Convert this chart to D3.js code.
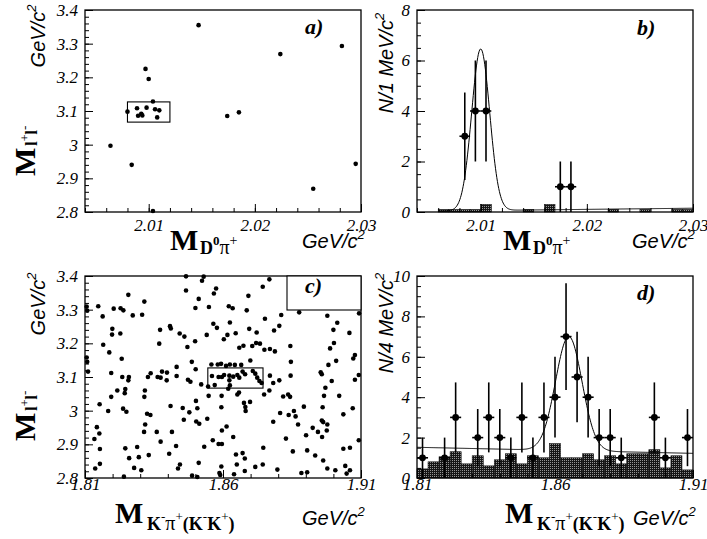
<!DOCTYPE html>
<html>
<head>
<meta charset="utf-8">
<script src="https://cdn.jsdelivr.net/npm/d3@7"></script>
<style>
  body { margin: 0; background: #fff; }
</style>
</head>
<body>
<div id="viz"></div>
<script>
// ---- data ----

// a) M(l+l-) vs M(D0 pi+), GeV/c^2
const aPoints = [
  [2.0147,3.355],[2.0224,3.269],[2.0282,3.293],[2.0097,3.225],[2.0100,3.195],
  [2.0104,3.128],[2.0080,3.098],[2.0089,3.108],[2.0098,3.110],[2.0090,3.086],
  [2.0093,3.092],[2.0094,3.087],[2.0106,3.105],[2.0110,3.102],[2.0108,3.081],
  [2.0174,3.085],[2.0185,3.096],[2.0064,2.997],[2.0084,2.940],[2.0255,2.869],
  [2.0295,2.943],[2.0104,2.803]
];
const aWindow = [2.008, 2.012, 3.067, 3.127];

// b) M(D0 pi+) in the J/psi window, 1 MeV bins
const bCenters = [2.0085, 2.0095, 2.0105, 2.0175, 2.0185];
const bCounts = [3, 4, 4, 1, 1];
const bBkgStart = 2.004;
const bBkgWidth = 0.001;
const bBkg = [0,0,0.1,0.1,0.1,0.1,0.3,0,0,0,0.1,0,0.3,0,0,0,0,0,0.1,0,0,0.1,0,0,0.1,0.1];
const bFitMean = 2.0100, bFitSigma = 0.00085, bFitAmp = 6.4;
const bFitBg = [0.04, 0.15];          // linear background at fit range ends
const bFitRange = [2.006, 2.030];

// c) M(l+l-) vs M(K-pi+ / K-K+)
const cPoints = [
  [1.8466,3.399],[1.853,3.398],[1.8524,3.386],[1.8575,3.363],[1.8567,3.348],[1.8466,3.357],
  [1.8257,3.344],[1.8512,3.332],[1.8315,3.324],[1.8106,3.309],[1.8148,3.310],[1.8108,3.297],
  [1.8204,3.303],[1.8229,3.304],[1.8239,3.298],[1.8164,3.280],[1.8273,3.283],[1.8307,3.285],
  [1.850,3.305],[1.8549,3.308],[1.8565,3.258],[1.8578,3.246],[1.8408,3.251],[1.8411,3.244],
  [1.8199,3.243],[1.8198,3.226],[1.8228,3.229],[1.8372,3.240],[1.8443,3.229],[1.846,3.220],
  [1.8541,3.225],[1.8603,3.212],[1.8499,3.206],[1.8166,3.196],[1.8369,3.199],[1.8471,3.189],
  [1.8188,3.173],[1.8106,3.158],[1.8233,3.154],[1.8108,3.145],[1.8487,3.145],[1.8558,3.137],
  [1.8581,3.137],[1.8593,3.139],[1.8432,3.130],[1.8501,3.123],[1.8111,3.116],[1.8195,3.112],
  [1.8338,3.111],[1.8379,3.116],[1.8397,3.113],[1.8235,3.100],[1.8259,3.100],[1.8328,3.100],
  [1.8363,3.100],[1.8374,3.098],[1.8432,3.103],[1.856,3.103],[1.8584,3.100],
  [1.8768,3.390],[1.8744,3.368],[1.8692,3.341],[1.8621,3.310],[1.8635,3.304],[1.8686,3.298],
  [1.8811,3.284],[1.8876,3.292],[1.8978,3.282],[1.9093,3.289],[1.8752,3.273],[1.8625,3.262],
  [1.9014,3.261],[1.8804,3.252],[1.8785,3.238],[1.8695,3.243],[1.8722,3.232],[1.8646,3.230],
  [1.900,3.240],[1.9058,3.231],[1.8616,3.225],[1.9002,3.201],[1.8659,3.187],[1.8674,3.193],
  [1.8706,3.192],[1.872,3.201],[1.8734,3.199],[1.875,3.181],[1.877,3.183],[1.8788,3.176],
  [1.8844,3.192],[1.8988,3.185],[1.9078,3.165],[1.9072,3.155],[1.901,3.148],[1.8982,3.136],
  [1.8846,3.145],[1.8699,3.149],[1.8611,3.133],[1.8625,3.137],[1.8643,3.136],[1.8666,3.136],
  [1.8604,3.106],[1.8623,3.104],[1.8637,3.101],[1.8652,3.106],[1.8659,3.098],[1.8671,3.116],
  [1.868,3.108],[1.8708,3.118],[1.8717,3.110],[1.8724,3.098],[1.877,3.104],[1.8845,3.104],
  [1.8954,3.114],[1.8958,3.108],[1.9092,3.106],
  [1.8257,3.090],[1.8396,3.090],[1.8473,3.092],[1.8482,3.086],[1.8521,3.078],[1.8546,3.072],
  [1.857,3.076],[1.8596,3.100],[1.8217,3.060],[1.8246,3.064],[1.8244,3.052],[1.8195,3.041],
  [1.8317,3.060],[1.8315,3.041],[1.8548,3.044],[1.8595,3.044],[1.8502,3.029],[1.8153,3.019],
  [1.841,3.014],[1.8454,3.008],[1.8507,3.007],[1.8478,2.995],[1.8184,2.999],[1.8238,3.006],
  [1.825,2.997],[1.8325,2.991],[1.8337,2.987],[1.8594,3.010],[1.8543,2.976],[1.8458,2.973],
  [1.8503,2.968],[1.8514,2.961],[1.8318,2.959],[1.8143,2.951],[1.8152,2.932],[1.8134,2.916],
  [1.8314,2.937],[1.836,2.937],[1.8415,2.937],[1.8596,2.941],[1.8374,2.908],[1.8563,2.912],
  [1.8584,2.901],[1.8596,2.901],[1.843,2.895],[1.8532,2.893],[1.8154,2.886],[1.8246,2.888],
  [1.8289,2.892],[1.8405,2.872],[1.8331,2.868],[1.826,2.859],[1.8295,2.862],[1.8154,2.842],
  [1.8137,2.828],[1.8278,2.830],[1.8304,2.823],[1.8444,2.840],[1.8437,2.828],[1.8512,2.845],
  [1.8594,2.834],[1.8587,2.815],[1.859,2.809],[1.8488,2.807],[1.8241,2.804],[1.8507,2.803],
  [1.8623,3.090],[1.8732,3.088],[1.874,3.082],[1.8625,3.075],[1.8619,3.065],
  [1.8782,3.082],[1.8804,3.090],[1.8994,3.088],[1.9078,3.092],
  [1.8768,3.060],[1.8749,3.048],[1.8652,3.048],[1.8658,3.054],[1.8818,3.042],[1.8836,3.048],
  [1.8843,3.041],[1.8971,3.068],[1.8966,3.044],[1.9021,3.044],
  [1.8676,3.023],[1.8698,3.026],[1.8681,3.011],[1.8682,2.999],[1.8893,3.012],[1.8961,3.010],
  [1.907,3.007],[1.9036,2.989],[1.8807,2.993],[1.8838,2.987],[1.8857,2.999],[1.8863,2.983],
  [1.8872,2.959],[1.8782,2.967],[1.8958,2.971],[1.8963,2.966],[1.8978,2.959],[1.8925,2.949],
  [1.8944,2.937],[1.8976,2.941],[1.8959,2.922],[1.8901,2.927],[1.8828,2.917],[1.8613,2.953],
  [1.8637,2.922],
  [1.8746,2.890],[1.8853,2.879],[1.8905,2.882],[1.8934,2.867],[1.8963,2.852],[1.9036,2.887],
  [1.906,2.890],[1.9092,2.912],[1.8647,2.870],[1.8671,2.874],[1.8679,2.858],[1.865,2.840],
  [1.8717,2.833],[1.8744,2.840],[1.8797,2.825],[1.8679,2.821],[1.864,2.811],[1.8884,2.815],
  [1.8905,2.817],[1.8978,2.828],[1.9007,2.823],[1.9043,2.836],[1.906,2.823],[1.9048,2.813]
];
const cWindow = [1.8545, 1.8745, 3.067, 3.127];

// d) M(K-pi+ / K-K+) in the J/psi window, 4 MeV bins from 1.81
const dStart = 1.81;
const dWidth = 0.004;
const dCounts = [1,0,1,3,0,2,3,2,1,3,1,3,4,7,5,4,2,2,1,0,0,3,1,0,2];
const dBkg = [0.45,0.8,1.05,1.3,0.7,1.1,0.6,0.9,1.2,0.7,1.1,1.0,1.7,1.0,1.0,1.2,0.9,1.1,0.7,1.2,1.2,1.4,0.5,1.1,0.4];
const dFitMean = 1.865, dFitSigma = 0.0048, dFitAmp = 5.65;
const dFitBg = [1.52, 1.22];
const dFitRange = [1.81, 1.91];

// ---- layout ----
const width = 707, height = 539;
const serif = 'Liberation Serif, Times New Roman, serif';
const sans = 'Liberation Sans, Arial, sans-serif';

const svg = d3.select('#viz').append('svg')
  .attr('width', width).attr('height', height)
  .style('background', '#fff');

const defs = svg.append('defs');
const pat = defs.append('pattern').attr('id', 'bkgfill')
  .attr('width', 2).attr('height', 2).attr('patternUnits', 'userSpaceOnUse');
pat.append('rect').attr('width', 2).attr('height', 2).attr('fill', '#161616');
pat.append('rect').attr('width', 1).attr('height', 1).attr('fill', '#959595');

const frames = {
  a: {left: 85, right: 361, top: 10, bottom: 212},
  b: {left: 417, right: 693, top: 10, bottom: 212},
  c: {left: 85, right: 361, top: 276, bottom: 478},
  d: {left: 417, right: 693, top: 276, bottom: 478}
};

const fmt = d => String(+d.toFixed(3));
const steps = (a, b, s) => d3.range(Math.round((b - a) / s) + 1).map(i => +(a + i * s).toFixed(4));

function drawAxes(f, x, y, o) {
  const g = svg.append('g');
  const bx = g.append('g').attr('transform', `translate(0,${f.bottom})`);
  bx.append('g').call(d3.axisBottom(x).tickValues(o.xMinor).tickSize(-4).tickFormat(''));
  bx.append('g').call(d3.axisBottom(x).tickValues(o.xMajor).tickSize(-8).tickPadding(o.xPad).tickFormat(fmt));
  const ly = g.append('g').attr('transform', `translate(${f.left},0)`);
  ly.append('g').call(d3.axisRight(y).tickValues(o.yMinor).tickSize(4).tickFormat(''));
  ly.append('g').call(d3.axisRight(y).tickValues(o.yMajor).tickSize(8).tickFormat(''));
  ly.append('g').call(d3.axisLeft(y).tickValues(o.yMajor).tickSize(0).tickPadding(7).tickFormat(fmt));
  g.selectAll('.domain').remove();
  g.selectAll('.tick line').attr('stroke', '#000').attr('stroke-width', 1);
  g.selectAll('text')
    .attr('font-family', serif).attr('font-style', 'italic')
    .attr('font-size', 17).attr('fill', '#000');
  svg.append('rect')
    .attr('x', f.left).attr('y', f.top)
    .attr('width', f.right - f.left).attr('height', f.bottom - f.top)
    .attr('fill', 'none').attr('stroke', '#000').attr('stroke-width', 1.3);
}

function rich(x, y, parts, opts = {}) {
  const t = svg.append('text')
    .attr('transform', `translate(${x},${y})` + (opts.rotate ? ' rotate(-90)' : ''))
    .attr('text-anchor', opts.anchor || 'start')
    .attr('fill', '#000');
  let cur = 0;
  parts.forEach(p => {
    t.append('tspan')
      .attr('dy', p.shift - cur)
      .attr('dx', p.dx || 0)
      .attr('font-family', p.family || serif)
      .attr('font-size', p.size)
      .attr('font-weight', p.bold ? 'bold' : 'normal')
      .attr('font-style', p.italic ? 'italic' : 'normal')
      .text(p.t);
    cur = p.shift;
  });
  return t;
}

const gevParts = [
  {t: 'GeV/c', size: 20, italic: true, family: sans, shift: 0},
  {t: '2', size: 13, italic: true, family: sans, shift: -9}
];
const mParts = (size) => [{t: 'M', size: size, bold: true, shift: 0}];
const llSub = [
  {t: 'l', size: 16, bold: true, shift: 2, dx: 2},
  {t: '+', size: 12, shift: -6},
  {t: 'l', size: 16, bold: true, shift: 2},
  {t: '-', size: 13, shift: -6}
];
const dpiSub = [
  {t: 'D', size: 18, bold: true, shift: 0},
  {t: '0', size: 13, bold: true, shift: -9},
  {t: 'π', size: 20, shift: 0},
  {t: '+', size: 14, shift: -9}
];
const kpiSub = [
  {t: 'K', size: 18, bold: true, shift: 0},
  {t: '-', size: 13, shift: -9},
  {t: 'π', size: 20, shift: 0},
  {t: '+', size: 13, shift: -9},
  {t: '(K', size: 18, bold: true, shift: 0},
  {t: '-', size: 13, shift: -9},
  {t: 'K', size: 18, bold: true, shift: 0},
  {t: '+', size: 13, shift: -9},
  {t: ')', size: 18, bold: true, shift: 0}
];

function panelLabel(txt, x, y) {
  svg.append('text').attr('x', x).attr('y', y)
    .attr('font-family', serif).attr('font-weight', 'bold').attr('font-style', 'italic')
    .attr('font-size', 22).text(txt);
}

function scatter(f, x, y, pts, win) {
  svg.append('g').selectAll('circle').data(pts).join('circle')
    .attr('cx', d => x(d[0])).attr('cy', d => y(d[1])).attr('r', 2.3).attr('fill', '#000');
  svg.append('rect')
    .attr('x', x(win[0])).attr('y', y(win[3]))
    .attr('width', x(win[1]) - x(win[0])).attr('height', y(win[2]) - y(win[3]))
    .attr('fill', 'none').attr('stroke', '#000').attr('stroke-width', 1.1);
}

function histo(x, y, start, w, vals) {
  svg.append('g').selectAll('rect').data(vals.map((v, i) => ({x0: start + i * w, x1: start + (i + 1) * w, v})).filter(d => d.v > 0))
    .join('rect')
    .attr('x', d => x(d.x0)).attr('y', d => y(d.v))
    .attr('width', d => x(d.x1) - x(d.x0)).attr('height', d => y(0) - y(d.v))
    .attr('fill', 'url(#bkgfill)').attr('stroke', '#111').attr('stroke-width', 0.6);
}

function fitCurve(x, y, mean, sigma, amp, bg, range) {
  const xs = d3.range(401).map(i => range[0] + i * (range[1] - range[0]) / 400);
  const f = v => bg[0] + (bg[1] - bg[0]) * (v - range[0]) / (range[1] - range[0])
    + amp * Math.exp(-0.5 * ((v - mean) / sigma) ** 2);
  svg.append('path')
    .attr('d', d3.line().x(v => x(v)).y(v => y(f(v)))(xs))
    .attr('fill', 'none').attr('stroke', '#000').attr('stroke-width', 1);
}

function errPoints(x, y, centers, counts, half) {
  const pts = centers.map((c, i) => ({c, n: counts[i]})).filter(d => d.n > 0);
  const g = svg.append('g').attr('stroke', '#000').attr('stroke-width', 1.6);
  g.selectAll('.ev').data(pts).join('line')
    .attr('x1', d => x(d.c)).attr('x2', d => x(d.c))
    .attr('y1', d => y(Math.max(0, d.n - Math.sqrt(d.n))))
    .attr('y2', d => y(d.n + Math.sqrt(d.n)));
  g.selectAll('.eh').data(pts).join('line')
    .attr('x1', d => x(d.c - half)).attr('x2', d => x(d.c + half))
    .attr('y1', d => y(d.n)).attr('y2', d => y(d.n));
  svg.append('g').selectAll('circle').data(pts).join('circle')
    .attr('cx', d => x(d.c)).attr('cy', d => y(d.n)).attr('r', 3.4).attr('fill', '#000');
}

// ---- panel a ----
{
  const f = frames.a;
  const x = d3.scaleLinear([2.004, 2.03], [f.left, f.right]);
  const y = d3.scaleLinear([2.8, 3.4], [f.bottom, f.top]);
  scatter(f, x, y, aPoints, aWindow);
  drawAxes(f, x, y, {
    xMajor: [2.01, 2.02, 2.03], xMinor: steps(2.004, 2.03, 0.002), xPad: 7,
    yMajor: steps(2.8, 3.4, 0.1), yMinor: steps(2.8, 3.4, 0.02)
  });
  panelLabel('a)', 305, 34);
}

// ---- panel b ----
{
  const f = frames.b;
  const x = d3.scaleLinear([2.004, 2.03], [f.left, f.right]);
  const y = d3.scaleLinear([0, 8], [f.bottom, f.top]);
  histo(x, y, bBkgStart, bBkgWidth, bBkg);
  fitCurve(x, y, bFitMean, bFitSigma, bFitAmp, bFitBg, bFitRange);
  errPoints(x, y, bCenters, bCounts, 0.0005);
  drawAxes(f, x, y, {
    xMajor: [2.01, 2.02, 2.03], xMinor: steps(2.004, 2.03, 0.002), xPad: 7,
    yMajor: steps(0, 8, 2), yMinor: steps(0, 8, 0.5)
  });
  panelLabel('b)', 637, 35);
}

// ---- panel c ----
{
  const f = frames.c;
  const x = d3.scaleLinear([1.81, 1.91], [f.left, f.right]);
  const y = d3.scaleLinear([2.8, 3.4], [f.bottom, f.top]);
  scatter(f, x, y, cPoints, cWindow);
  drawAxes(f, x, y, {
    xMajor: [1.81, 1.86, 1.91], xMinor: steps(1.81, 1.91, 0.01), xPad: 0,
    yMajor: steps(2.8, 3.4, 0.1), yMinor: steps(2.8, 3.4, 0.02)
  });
  svg.append('rect')
    .attr('x', f.right - 74).attr('y', f.top)
    .attr('width', 74).attr('height', 34)
    .attr('fill', '#fff').attr('stroke', '#000').attr('stroke-width', 1.1);
  panelLabel('c)', 305, 293);
}

// ---- panel d ----
{
  const f = frames.d;
  const x = d3.scaleLinear([1.81, 1.91], [f.left, f.right]);
  const y = d3.scaleLinear([0, 10], [f.bottom, f.top]);
  histo(x, y, dStart, dWidth, dBkg);
  fitCurve(x, y, dFitMean, dFitSigma, dFitAmp, dFitBg, dFitRange);
  errPoints(x, y, dCounts.map((_, i) => dStart + (i + 0.5) * dWidth), dCounts, dWidth / 2);
  drawAxes(f, x, y, {
    xMajor: [1.81, 1.86, 1.91], xMinor: steps(1.81, 1.91, 0.01), xPad: 0,
    yMajor: steps(0, 10, 2), yMinor: steps(0, 10, 0.5)
  });
  panelLabel('d)', 637, 300);
}

// ---- axis titles ----
rich(170, 250, mParts(30));
rich(200, 254, dpiSub);
rich(302, 248, gevParts);
rich(503, 250, mParts(30));
rich(533, 254, dpiSub);
rich(632, 248, gevParts);

rich(115, 523, mParts(30));
rich(147, 530, kpiSub);
rich(302, 525, gevParts);
rich(505, 523, mParts(30));
rich(537, 530, kpiSub);
rich(633, 525, gevParts);

rich(35, 176, mParts(30).concat(llSub), {rotate: true});
rich(45, 36, gevParts, {rotate: true, anchor: 'middle'});
rich(35, 441, mParts(30).concat(llSub), {rotate: true});
rich(45, 304, gevParts, {rotate: true, anchor: 'middle'});

const nParts = (bin) => [
  {t: `N/${bin} MeV/c`, size: 20, italic: true, family: sans, shift: 0},
  {t: '2', size: 13, italic: true, family: sans, shift: -9}
];
rich(393, 63, nParts(1), {rotate: true, anchor: 'middle'});
rich(393, 323, nParts(4), {rotate: true, anchor: 'middle'});
</script>
</body>
</html>
